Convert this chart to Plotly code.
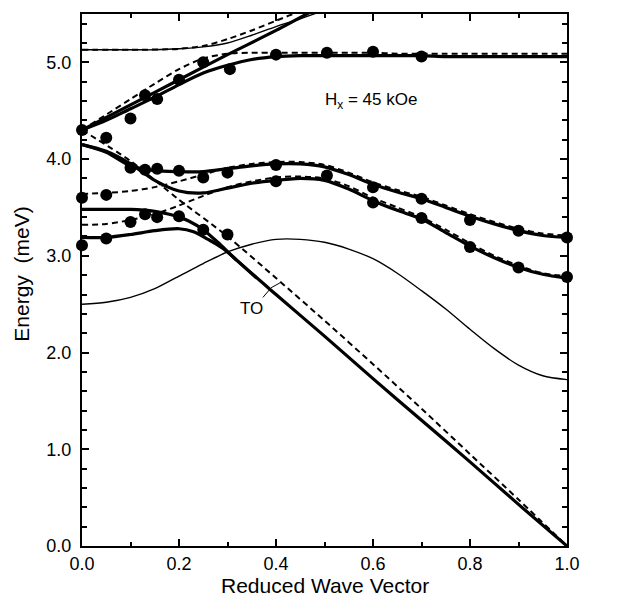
import plotly.graph_objects as go

# ---------------- data ----------------
q = [0, 0.05, 0.1, 0.15, 0.2, 0.25, 0.3, 0.35, 0.4, 0.45, 0.5,
     0.55, 0.6, 0.65, 0.7, 0.75, 0.8, 0.85, 0.9, 0.95, 1.0]

# H = 0 branch (thin)
h0_y = [2.50, 2.52, 2.57, 2.66, 2.79, 2.92, 3.04, 3.12, 3.17, 3.17, 3.14,
        3.07, 2.97, 2.82, 2.64, 2.45, 2.24, 2.04, 1.87, 1.76, 1.72]

# |1x> branch, Hx = 45 kOe (thick solid) and companion (dashed)
s1x_y = [4.15, 4.07, 3.93, 3.88, 3.87, 3.87, 3.90, 3.93, 3.95, 3.95, 3.92,
         3.84, 3.74, 3.66, 3.59, 3.50, 3.41, 3.33, 3.26, 3.21, 3.19]
d1x_y = [3.64, 3.65, 3.67, 3.71, 3.77, 3.84, 3.91, 3.95, 3.97, 3.97, 3.94,
         3.86, 3.76, 3.68, 3.61, 3.52, 3.43, 3.35, 3.28, 3.23, 3.21]

# |1y> branch (thick solid) and companion (dashed)
s1y_y = [4.15, 4.08, 3.95, 3.78, 3.67, 3.65, 3.70, 3.75, 3.78, 3.80, 3.78,
         3.69, 3.57, 3.47, 3.38, 3.24, 3.10, 2.98, 2.88, 2.81, 2.77]
d1y_y = [3.32, 3.33, 3.37, 3.43, 3.52, 3.62, 3.71, 3.77, 3.81, 3.82, 3.80,
         3.72, 3.60, 3.50, 3.40, 3.27, 3.13, 3.00, 2.90, 2.82, 2.79]

# |3x> branch (thick solid, lower part) and dashed companion
s3_y = [4.30, 4.40, 4.52, 4.64, 4.77, 4.89, 4.97, 5.03, 5.06, 5.07, 5.07,
        5.07, 5.07, 5.07, 5.07, 5.06, 5.06, 5.06, 5.06, 5.06, 5.06]
d3_y = [4.30, 4.46, 4.62, 4.78, 4.93, 5.04, 5.09, 5.10, 5.10, 5.10, 5.10,
        5.10, 5.10, 5.09, 5.09, 5.09, 5.09, 5.09, 5.09, 5.09, 5.09]

# upper rising branches
sup_x = [0, 0.1, 0.2, 0.3, 0.4, 0.5]
sup_y = [4.30, 4.56, 4.82, 5.08, 5.33, 5.60]
t3_x = [0, 0.1, 0.15, 0.2, 0.25, 0.3, 0.35, 0.4, 0.45, 0.5]
t3_y = [5.13, 5.13, 5.13, 5.14, 5.16, 5.20, 5.28, 5.37, 5.45, 5.54]
dup_x = [0, 0.1, 0.2, 0.25, 0.3, 0.35, 0.4, 0.45, 0.5]
dup_y = [5.13, 5.13, 5.14, 5.17, 5.24, 5.33, 5.43, 5.53, 5.63]

# TO phonon branches
toa_x = [0, 0.05, 0.1, 0.15, 0.18, 0.2, 0.22, 0.25, 0.28, 0.32, 0.4, 0.5,
         0.6, 0.7, 0.8, 0.9, 1.0]
toa_y = [3.48, 3.48, 3.48, 3.46, 3.43, 3.40, 3.36, 3.27, 3.14, 2.95, 2.60,
         2.17, 1.73, 1.30, 0.87, 0.43, 0.0]
tob_x = [0, 0.05, 0.1, 0.15, 0.2, 0.23, 0.26, 0.29, 0.32, 0.36]
tob_y = [3.19, 3.19, 3.22, 3.26, 3.28, 3.25, 3.17, 3.08, 2.95, 2.77]
tod_x = [0, 0.1, 0.2, 0.3, 0.4, 0.5, 0.6, 0.7, 0.8, 0.9, 1.0]
tod_y = [4.30, 3.98, 3.58, 3.20, 2.77, 2.33, 1.88, 1.42, 0.95, 0.48, 0.0]

# measured points
dot_x = [0, 0.05, 0.1, 0.13, 0.155, 0.2, 0.25, 0.305, 0.4, 0.505, 0.6, 0.7,
         0, 0.05, 0.1, 0.13, 0.155, 0.2, 0.25, 0.3, 0.4, 0.4, 0.505,
         0.6, 0.6, 0.7, 0.7, 0.8, 0.8, 0.9, 0.9, 1.0, 1.0,
         0, 0.05, 0.1, 0.13, 0.155, 0.2, 0.25, 0.3]
dot_y = [4.30, 4.22, 4.42, 4.66, 4.62, 4.82, 5.00, 4.93, 5.08, 5.10, 5.11, 5.06,
         3.60, 3.63, 3.91, 3.89, 3.90, 3.88, 3.81, 3.86, 3.94, 3.77, 3.83,
         3.71, 3.55, 3.59, 3.39, 3.37, 3.09, 3.26, 2.88, 3.19, 2.78,
         3.11, 3.18, 3.35, 3.43, 3.40, 3.41, 3.27, 3.22]

x_ticks = [0, 0.2, 0.4, 0.6, 0.8, 1.0]
x_ticktext = ["0.0", "0.2", "0.4", "0.6", "0.8", "1.0"]
y_ticks = [0, 1, 2, 3, 4, 5]
y_ticktext = ["0.0", "1.0", "2.0", "3.0", "4.0", "5.0"]

# ---------------- figure ----------------
FONT = "Liberation Sans, Arial, Helvetica, sans-serif"
thick = dict(color="black", width=3.2)
thin = dict(color="black", width=1.4)
dash = dict(color="black", width=2, dash="6px,4px")

fig = go.Figure()


def add_line(x, y, line):
    fig.add_trace(go.Scatter(x=x, y=y, mode="lines", line=dict(shape="spline", smoothing=0.8, **line),
                             hoverinfo="skip", showlegend=False))


add_line(q, h0_y, thin)
add_line(t3_x, t3_y, thin)
add_line(dup_x, dup_y, dash)
add_line(q, d3_y, dash)
add_line(q, d1x_y, dash)
add_line(q, d1y_y, dash)
add_line(tod_x, tod_y, dash)
add_line(q, s3_y, thick)
add_line(sup_x, sup_y, thick)
add_line(q, s1x_y, thick)
add_line(q, s1y_y, thick)
add_line(toa_x, toa_y, thick)
add_line(tob_x, tob_y, thick)

fig.add_trace(go.Scatter(x=dot_x, y=dot_y, mode="markers",
                         marker=dict(color="black", size=12, line=dict(width=0)),
                         cliponaxis=False, showlegend=False, hoverinfo="skip"))

# TO leader line
fig.add_shape(type="path", path="M 0.373 2.57 L 0.39 2.67 L 0.408 2.72",
              xref="x", yref="y", line=dict(color="black", width=1))

ann_font = dict(family=FONT, size=17, color="black")
fig.add_annotation(x=0.35, y=2.46, text="TO", showarrow=False, font=ann_font)
fig.add_annotation(x=0.497, y=4.6, text="H<sub>x</sub> = 45 kOe", showarrow=False,
                   xanchor="left", font=ann_font)
for yv, txt in [(5.02, "|3<sub>x</sub>&gt;"), (3.18, "|1<sub>x</sub>&gt;"),
                (2.73, "|1<sub>y</sub>&gt;"), (1.76, "H = 0")]:
    fig.add_annotation(x=1.045, y=yv, text=txt, showarrow=False, xanchor="left",
                       font=dict(family=FONT, size=18, color="black"))

# axis titles
title_font = dict(family=FONT, size=21, color="black")
fig.add_annotation(xref="paper", yref="paper", x=0.5, y=0, yshift=-39, yanchor="middle",
                   text="Reduced Wave Vector", showarrow=False, font=title_font)
fig.add_annotation(xref="paper", yref="paper", x=0, y=0.51, xshift=-60, xanchor="center",
                   text="Energy\u00a0 (meV)", textangle=-90, showarrow=False, font=title_font)

axis_common = dict(showgrid=False, zeroline=False, showline=True, linecolor="black",
                   linewidth=2, mirror="ticks", ticks="inside", tickcolor="black",
                   tickwidth=1.5, ticklen=7, automargin=False,
                   tickfont=dict(family=FONT, size=18, color="black"))

fig.update_xaxes(range=[0, 1], tickvals=x_ticks, ticktext=x_ticktext,
                 minor=dict(dtick=0.1, ticks="inside", ticklen=4, tickcolor="black", tickwidth=1.5),
                 **axis_common)
fig.update_yaxes(range=[0, 5.5], tickvals=y_ticks, ticktext=y_ticktext,
                 minor=dict(dtick=0.2, ticks="inside", ticklen=5, tickcolor="black", tickwidth=1.5),
                 ticklabelstandoff=5,
                 **axis_common)

# the page body adds an 8px margin; sizes compensate so the plot area lands at
# x 82..567, y 14..546 in the 632x598 window
fig.update_layout(width=624, height=590, margin=dict(l=74, r=65, t=6, b=52),
                  paper_bgcolor="white", plot_bgcolor="white", showlegend=False)

fig.write_html("out.html")
